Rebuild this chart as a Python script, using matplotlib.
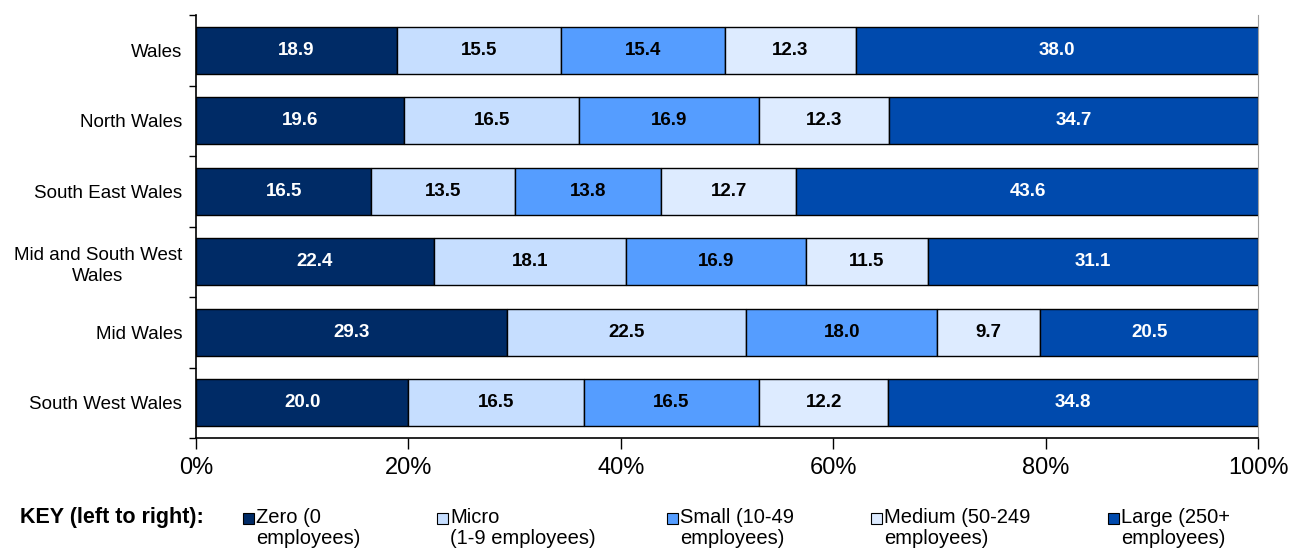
import matplotlib.pyplot as plt
from matplotlib.patches import Rectangle
from matplotlib.ticker import FuncFormatter, FixedLocator

plt.rcParams["font.family"] = ["Liberation Sans", "DejaVu Sans"]

# ---------------------------------------------------------------------------
# Data
# ---------------------------------------------------------------------------
REGIONS = [
    "Wales",
    "North Wales",
    "South East Wales",
    "Mid and South West\nWales",
    "Mid Wales",
    "South West Wales",
]

ZERO   = [18.9, 19.6, 16.5, 22.4, 29.3, 20.0]
MICRO  = [15.5, 16.5, 13.5, 18.1, 22.5, 16.5]
SMALL  = [15.4, 16.9, 13.8, 16.9, 18.0, 16.5]
MEDIUM = [12.3, 12.3, 12.7, 11.5, 9.7, 12.2]
LARGE  = [38.0, 34.7, 43.6, 31.1, 20.5, 34.8]

SERIES = [ZERO, MICRO, SMALL, MEDIUM, LARGE]
KEY_LABELS = [
    "Zero (0\nemployees)",
    "Micro\n(1-9 employees)",
    "Small (10-49\nemployees)",
    "Medium (50-249\nemployees)",
    "Large (250+\nemployees)",
]

COLORS      = ["#002B66", "#C6DEFF", "#559DFF", "#DDEBFF", "#004AAD"]
TEXT_COLORS = ["white", "black", "black", "black", "white"]

# legend layout (figure pixels)
KEY_SQUARE_X = [243, 437, 667, 871, 1108]

W, H = 1293, 548
fig = plt.figure(figsize=(W / 100, H / 100), dpi=100)
ax = fig.add_axes([196 / W, 1 - 438 / H, (1258 - 196) / W, (438 - 15) / H])

y = list(range(len(REGIONS)))
left = [0.0] * len(REGIONS)
for vals, color, tcol in zip(SERIES, COLORS, TEXT_COLORS):
    bars = ax.barh(y, vals, left=left, height=0.66, color=color,
                   edgecolor="black", linewidth=1.0)
    for b, v in zip(bars, vals):
        ax.text(b.get_x() + b.get_width() / 2, b.get_y() + b.get_height() / 2,
                f"{v:.1f}", ha="center", va="center", color=tcol,
                fontsize=13.5, fontweight="bold")
    left = [l + v for l, v in zip(left, vals)]

ax.set_xlim(0, 100)
ax.set_ylim(len(REGIONS) - 0.5, -0.5)
ax.set_xticks([0, 20, 40, 60, 80, 100])
ax.xaxis.set_major_formatter(FuncFormatter(lambda v, p: f"{v:.0f}%"))
ax.tick_params(axis="x", labelsize=17, length=8, width=1, direction="out", pad=6)

# y tick labels at centres, tick marks at category boundaries
ax.set_yticks(y)
ax.set_yticklabels(REGIONS, fontsize=13.5, ha="right", multialignment="center",
                   linespacing=1.35)
ax.tick_params(axis="y", length=0, pad=10)
ax.yaxis.set_minor_locator(FixedLocator([i - 0.5 for i in range(len(REGIONS) + 1)]))
ax.tick_params(axis="y", which="minor", length=5, width=1, direction="out")

ax.spines["top"].set_visible(False)
ax.spines["right"].set_color("#a0a0a0")
ax.spines["left"].set_linewidth(1.2)
ax.spines["bottom"].set_linewidth(1.2)

# ---------------------------------------------------------------------------
# Key
# ---------------------------------------------------------------------------
fig.text(20 / W, 1 - 518 / H, "KEY (left to right):", fontsize=15.5,
         fontweight="bold", va="center", ha="left")
for sx, color, label in zip(KEY_SQUARE_X, COLORS, KEY_LABELS):
    fig.patches.append(Rectangle((sx / W, 1 - 524 / H), 11 / W, 11 / H,
                                 facecolor=color, edgecolor="black",
                                 linewidth=0.8, transform=fig.transFigure))
    fig.text((sx + 13) / W, 1 - 508 / H, label, fontsize=14.5,
             va="top", ha="left", linespacing=1.15)

fig.savefig("out.png", dpi=100)
